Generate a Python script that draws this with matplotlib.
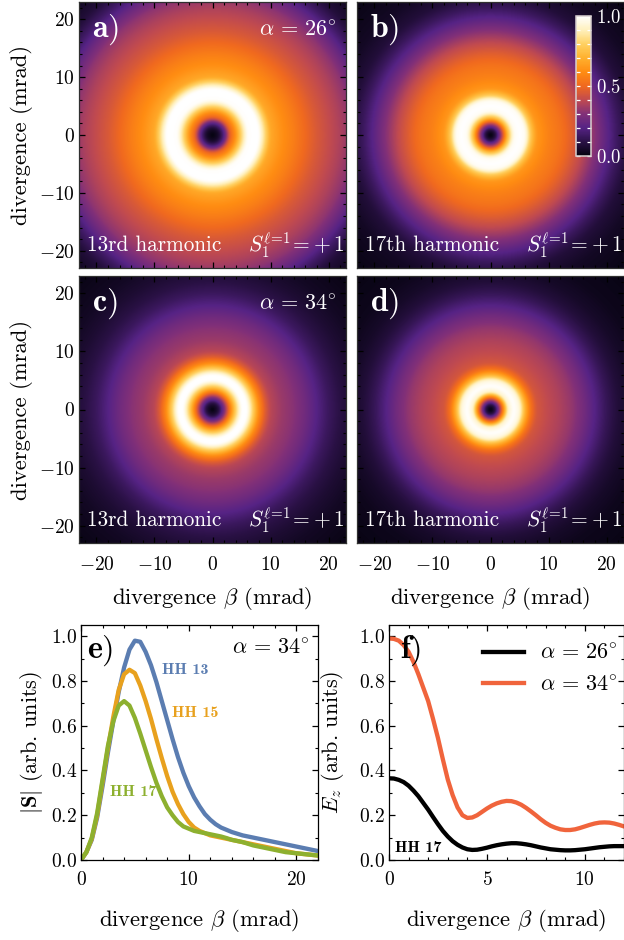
import numpy as np
import matplotlib
matplotlib.use('Agg')
import matplotlib.pyplot as plt
from matplotlib.colors import LinearSegmentedColormap
from matplotlib.ticker import MultipleLocator

plt.rcParams['font.family']='cmr10'
plt.rcParams['mathtext.fontset']='cm'
plt.rcParams['axes.formatter.use_mathtext']=True
plt.rcParams['axes.linewidth']=0.9

# radial profiles of the far field intensity
r_a=[0,1,2,3,4,5,6,7,8,9,10,12,14,16,18,20,22,24,26,28,30,33]
i_a=[0,.05,.2,.48,.62,.82,.99,1,1,.84,.68,.61,.56,.5,.45,.41,.37,.32,.24,.15,.08,.03]
r_b=[0,.5,1,2,3,4,5,6,7,8,10,12,14,16,18,20,22,24,27,33]
i_b=[0,.04,.12,.4,.75,.98,1,.98,.76,.63,.57,.53,.47,.4,.31,.22,.14,.08,.04,.01]
r_c=[0,1,2,3,4,5,6,7,8,9,10,12,14,16,18,20,22,24,27,33]
i_c=[0,.08,.28,.55,.8,1,1,.8,.6,.47,.39,.34,.31,.26,.2,.14,.1,.07,.04,.01]
r_d=[0,.5,1,2,3,4,5,6,7,8,10,12,14,16,18,20,22,24,27,33]
i_d=[0,.05,.15,.5,.92,1,.95,.7,.52,.44,.4,.37,.33,.27,.2,.13,.08,.05,.025,.01]

panel_names=['a)','b)','c)','d)']
harmonics=['13rd harmonic','17th harmonic','13rd harmonic','17th harmonic']

# lineouts
beta_e=[0,.5,1,1.5,2,2.5,3,3.5,4,4.5,5,5.5,6,6.5,7,7.5,8,8.5,9,9.5,10,10.5,11,11.5,12,12.5,13,13.5,14,15,16,17,18,19,20,21,22]
hh13=[0,.035,.09,.19,.33,.48,.62,.75,.86,.94,.98,.975,.93,.87,.795,.71,.625,.54,.46,.39,.33,.28,.24,.205,.18,.16,.145,.135,.125,.11,.1,.09,.08,.07,.06,.05,.04]
hh15=[0,.035,.095,.2,.35,.5,.64,.76,.83,.85,.835,.78,.71,.63,.54,.455,.375,.305,.25,.205,.17,.145,.13,.12,.11,.105,.1,.095,.09,.08,.07,.06,.05,.04,.03,.025,.02]
hh17=[0,.035,.1,.21,.36,.51,.62,.69,.71,.69,.635,.565,.49,.415,.345,.285,.235,.2,.17,.15,.14,.13,.125,.12,.115,.11,.105,.098,.09,.08,.065,.055,.045,.035,.03,.025,.02]

beta_f=[0,.25,.5,.75,1,1.25,1.5,1.75,2,2.25,2.5,2.75,3,3.25,3.5,3.75,4,4.25,4.5,4.75,5,5.25,5.5,5.75,6,6.25,6.5,6.75,7,7.25,7.5,7.75,8,8.25,8.5,8.75,9,9.25,9.5,9.75,10,10.25,10.5,10.75,11,11.25,11.5,11.75,12]
ez_26=[.365,.364,.358,.348,.332,.31,.285,.255,.225,.192,.16,.13,.105,.084,.068,.056,.048,.045,.046,.05,.055,.061,.066,.07,.073,.075,.075,.073,.07,.066,.061,.056,.052,.048,.046,.044,.043,.043,.044,.046,.048,.051,.054,.057,.059,.061,.062,.062,.062]
ez_34=[.99,.988,.98,.96,.93,.885,.83,.77,.71,.63,.545,.45,.36,.29,.235,.2,.188,.19,.2,.215,.23,.243,.253,.26,.264,.263,.257,.247,.233,.217,.2,.182,.166,.153,.144,.137,.134,.134,.137,.143,.15,.157,.163,.167,.168,.167,.163,.157,.15]

cmap=LinearSegmentedColormap.from_list('beam',[
(0,'#05030f'),(.1,'#2a1145'),(.2,'#562385'),(.3,'#823078'),(.4,'#c04a50'),
(.5,'#f0691f'),(.6,'#ff8c12'),(.7,'#ffb02e'),(.8,'#ffd060'),(.9,'#fff0bc'),(1,'#ffffff')])

W,H=624,940
fig=plt.figure(figsize=(W/100,H/100),dpi=100)

def axes_px(x0,y0,x1,y1):
    return fig.add_axes([x0/W,1-y1/H,(x1-x0)/W,(y1-y0)/H])

def beam(r_k,i_k):
    g=np.linspace(-23,23,461)
    X,Y=np.meshgrid(g,g)
    r=np.linspace(0,34,681)
    p=np.interp(r,r_k,i_k)
    # take the corners off the read profile
    k=np.ones(13)/13
    p=np.convolve(np.pad(p,6,mode='reflect'),k,mode='valid')
    return np.interp(np.hypot(X,Y),r,p)

def ticks(a,xmaj,xmin,ymaj,ymin,xpad):
    a.xaxis.set_major_locator(MultipleLocator(xmaj))
    a.xaxis.set_minor_locator(MultipleLocator(xmin))
    a.yaxis.set_major_locator(MultipleLocator(ymaj))
    a.yaxis.set_minor_locator(MultipleLocator(ymin))
    a.tick_params(which='major',direction='in',top=True,right=True,length=4,width=.9,labelsize=14)
    a.tick_params(which='minor',direction='in',top=True,right=True,length=2.2,width=.8)
    a.tick_params(axis='x',which='major',pad=xpad)
    a.tick_params(axis='y',which='major',pad=3)

boxes=[(79,2,346,268),(357,2,624,268),(79,276,346,543),(357,276,624,543)]
profiles=[(r_a,i_a),(r_b,i_b),(r_c,i_c),(r_d,i_d)]
ax=[]
for n,box in enumerate(boxes):
    a=axes_px(*box)
    im=a.imshow(beam(*profiles[n]),extent=[-23,23,-23,23],origin='lower',cmap=cmap,vmin=0,vmax=1,aspect='auto')
    ticks(a,10,2,10,2,9.5)
    for s in a.spines.values():
        s.set_color('#303030')
    a.text(.05,.895,r'$\mathbf{%s})$'%panel_names[n][0],transform=a.transAxes,color='white',fontsize=23,va='center')
    a.text(.03,.085,harmonics[n],transform=a.transAxes,color='white',fontsize=15.3,va='center')
    a.text(.995,.085,r'$S_1^{\ell\!=\!1}\!=\!+1$',transform=a.transAxes,color='white',fontsize=15.5,va='center',ha='right')
    if n>=2:
        a.set_xlabel(r'divergence $\beta$ (mrad)',fontsize=16.3,labelpad=8)
    else:
        a.tick_params(labelbottom=False)
    if n%2==0:
        a.set_ylabel('divergence (mrad)',fontsize=16.3,labelpad=4)
    else:
        a.tick_params(labelleft=False)
    ax.append(a)

ax[0].text(.966,.895,r'$\alpha\,=\,26^{\circ}$',transform=ax[0].transAxes,color='white',fontsize=16,va='center',ha='right')
ax[2].text(.966,.895,r'$\alpha\,=\,34^{\circ}$',transform=ax[2].transAxes,color='white',fontsize=16,va='center',ha='right')

# colorbar inside panel b
cax=axes_px(575.5,16,590.5,156)
cb=fig.colorbar(im,cax=cax)
cb.set_ticks([0,.5,1])
cb.ax.yaxis.set_minor_locator(MultipleLocator(.1))
cb.ax.tick_params(which='major',direction='in',color='white',labelcolor='white',labelsize=13.5,length=3,width=.9,pad=4,left=True,right=True)
cb.ax.tick_params(which='minor',direction='in',color='white',length=3,width=.9,left=True,right=True)
cb.outline.set_edgecolor('#d8d0d0')
cb.outline.set_linewidth(1.1)

# e)
e=axes_px(81,625,318,860)
e.plot(beta_e,hh13,color='#5b7db1',lw=3.1)
e.plot(beta_e,hh15,color='#e8a11e',lw=3.1)
e.plot(beta_e,hh17,color='#8db02f',lw=3.1)
e.set_xlim(0,22)
e.set_ylim(0,1.05)
ticks(e,10,2,.2,.1,8)
e.set_xlabel(r'divergence $\beta$ (mrad)',fontsize=16.3,labelpad=13)
e.set_ylabel(r'$|\mathbf{S}|$ (arb. units)',fontsize=16,labelpad=4)
e.text(.025,.89,r'$\mathbf{e})$',transform=e.transAxes,fontsize=23,va='center')
e.text(.966,.90,r'$\alpha\,=\,34^{\circ}$',transform=e.transAxes,fontsize=16,va='center',ha='right')
e.text(7.5,.85,'HH 13',color='#5b7db1',fontname='cmb10',fontsize=11.5,va='center')
e.text(8.45,.655,'HH 15',color='#e8a11e',fontname='cmb10',fontsize=11.5,va='center')
e.text(2.7,.305,'HH 17',color='#8db02f',fontname='cmb10',fontsize=11.5,va='center')

# f)
f=axes_px(389,625,624,860)
f.plot(beta_f,ez_26,color='black',lw=3.1,label=r'$\alpha\,=\,26^{\circ}$')
f.plot(beta_f,ez_34,color='#f0643c',lw=3.1,label=r'$\alpha\,=\,34^{\circ}$')
f.set_xlim(0,12)
f.set_ylim(0,1.05)
ticks(f,5,1,.2,.1,8)
f.set_xlabel(r'divergence $\beta$ (mrad)',fontsize=16.3,labelpad=13)
f.set_ylabel(r'$E_z$ (arb. units)',fontsize=16,labelpad=9)
f.text(.047,.89,r'$\mathbf{f})$',transform=f.transAxes,fontsize=23,va='center',zorder=5)
f.text(.3,.055,'HH 17',color='black',fontname='cmb10',fontsize=11.5,va='center')
f.legend(loc='upper right',bbox_to_anchor=(1.013,.958),frameon=False,fontsize=16,handlelength=1.85,labelspacing=.55,borderaxespad=0,handletextpad=.75)

fig.savefig('out.png',dpi=100)
